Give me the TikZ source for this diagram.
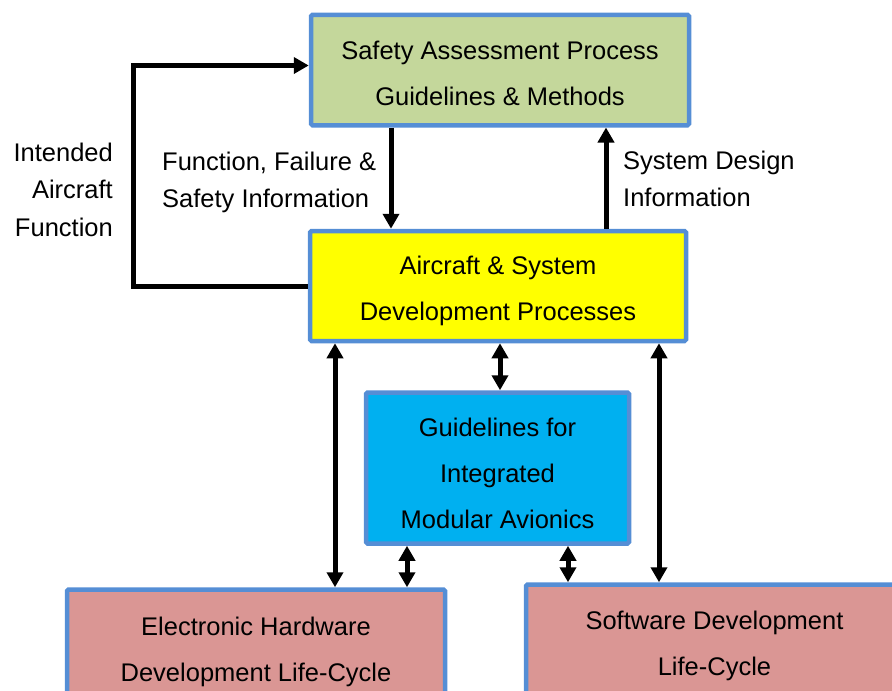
\documentclass[tikz,border=0pt]{standalone}
\usepackage{fontspec}
\setmainfont{Liberation Sans}
\usetikzlibrary{arrows.meta,calc}
\definecolor{bordblue}{RGB}{85,142,213}
\definecolor{sgreen}{RGB}{196,215,155}
\definecolor{syellow}{RGB}{255,255,0}
\definecolor{scyan}{RGB}{0,176,240}
\definecolor{spink}{RGB}{218,150,148}
\begin{document}
\begin{tikzpicture}[x=1pt,y=-1pt,
  procbox/.style={draw=bordblue, line width=4.5pt, rounded corners=1.5pt, inner sep=0pt},
  boxtext/.style={align=center, inner sep=0pt, font=\fontsize{25.5}{46}\selectfont},
  lbl/.style={inner sep=0pt, font=\fontsize{25.5}{37.5}\selectfont},
  conn/.style={line width=5pt, draw=black},
  onehead/.style={conn, -{Triangle[length=15pt,width=16pt]}},
  twohead/.style={conn, {Triangle[length=15pt,width=16pt]}-{Triangle[length=15pt,width=16pt]}}]
\useasboundingbox (0,0) rectangle (892,691);
\clip (0,0) rectangle (892,691);

\node[procbox, fill=sgreen, minimum width=378pt, minimum height=110.5pt] (safety) at (500,70) {};
\node[procbox, fill=syellow, minimum width=376pt, minimum height=110pt] (aircraft) at (498,286) {};
\node[procbox, fill=scyan, minimum width=263pt, minimum height=151pt] (ima) at (497.5,468) {};
\node[procbox, fill=spink, minimum width=378pt, minimum height=119pt] (hw) at (256,649) {};
\node[procbox, fill=spink, minimum width=377pt, minimum height=117pt] (sw) at (714.5,643) {};

\node[boxtext] (safetyT) at ($(safety.center)+(0,3.5)$) {Safety Assessment Process\\Guidelines \& Methods};
\node[boxtext] (aircraftT) at ($(aircraft.center)+(0,5)$) {Aircraft \& System\\Development Processes};
\node[boxtext] (imaT) at ($(ima.center)+(0,5)$) {Guidelines for\\Integrated\\Modular Avionics};
\node[boxtext] (hwT) at ($(hw.center)+(0,3)$) {Electronic Hardware\\Development Life-Cycle};
\node[boxtext] (swT) at ($(sw.center)+(0,3)$) {Software Development\\Life-Cycle};

\node[lbl, anchor=north east, align=right] (intended) at (113,142.5) {Intended\\Aircraft\\Function};
\node[lbl, anchor=north west, align=left] (ffs) at (162,151.5) {Function, Failure \&\\Safety Information};
\node[lbl, anchor=north west, align=left] (sdi) at (623,150.5) {System Design\\Information};

\coordinate (lt) at (133,65.5);
\coordinate (lb) at (133,286);
\coordinate (xa) at (391,0);
\coordinate (xb) at (606,0);
\coordinate (xc) at (335,0);
\coordinate (xd) at (500,0);
\coordinate (xe) at (659,0);
\coordinate (xf) at (407,0);
\coordinate (xg) at (568,0);

\draw[onehead] (aircraft.west) -- (lb) -- (lt) -- (safety.west |- lt);
\draw[onehead] (safety.south -| xa) -- (aircraft.north -| xa);
\draw[onehead] (aircraft.north -| xb) -- (safety.south -| xb);
\draw[twohead] (aircraft.south -| xc) -- (hw.north -| xc);
\draw[twohead] (aircraft.south -| xd) -- (ima.north -| xd);
\draw[twohead] (aircraft.south -| xe) -- (sw.north -| xe);
\draw[twohead] (ima.south -| xf) -- (hw.north -| xf);
\draw[twohead] (ima.south -| xg) -- (sw.north -| xg);
\end{tikzpicture}
\end{document}
